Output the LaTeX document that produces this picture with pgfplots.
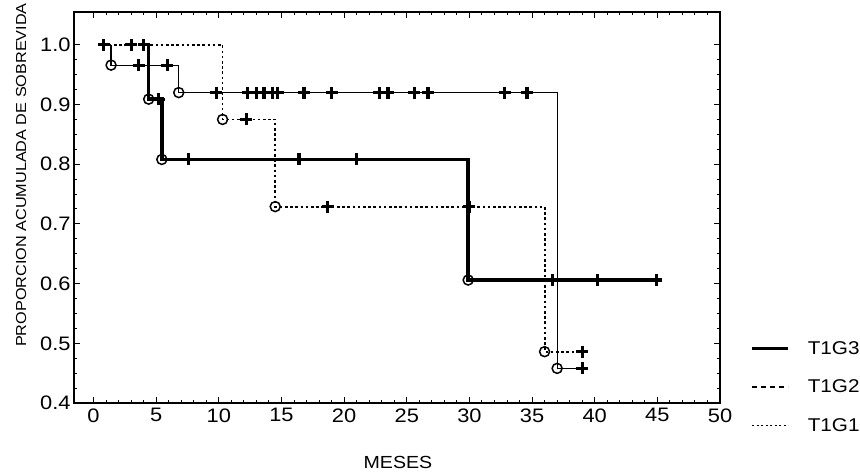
\documentclass[border=0pt]{standalone}
\usepackage{pgfplots}
\pgfplotsset{compat=1.18}
\usepackage{fontspec}
\setmainfont{Liberation Sans}[FakeStretch=1.12]

\begin{document}
\begin{tikzpicture}
\begin{axis}[
  scale only axis, width=646bp, height=391bp,
  xmin=-1.56, xmax=50, ymin=0.4, ymax=1.055,
  xtick={0,5,10,15,20,25,30,35,40,45,50},
  ytick={0.4,0.5,0.6,0.7,0.8,0.9,1.0},
  minor x tick num=4, minor y tick num=3,
  tick align=inside, major tick length=6bp, minor tick length=3bp,
  tick style={black, line width=1bp},
  axis line style={line width=1.8bp},
  yticklabel style={/pgf/number format/.cd, fixed, fixed zerofill, precision=1},
  /pgf/number format/assume math mode=true,
  tick label style={font=\fontsize{19.5bp}{21bp}\selectfont},
  xticklabel style={yshift=-2bp},
  ylabel={PROPORCION ACUMULADA DE SOBREVIDA},
  xlabel={MESES},
  every axis y label/.style={at={(rel axis cs:-0.082,0.583)}, rotate=90, anchor=center, font=\fontsize{14.5bp}{16bp}\selectfont},
  every axis x label/.style={at={(rel axis cs:0.5015,-0.151)}, anchor=center, font=\fontsize{17.5bp}{19bp}\selectfont},
  legend style={draw=none, fill=none, at={(rel axis cs:1,0)}, anchor=west, xshift=30bp, yshift=16bp,
     inner sep=0pt, row sep=24bp, font=\fontsize{18.5bp}{20bp}\selectfont,
     nodes={inner sep=0pt}},
  legend cell align=left,
  /tikz/every odd column/.append style={column sep=18bp},
]
% lines
\addplot[black, line width=3.6bp, forget plot] coordinates {
 (4.4,1.0) (4.4,0.909) (5.45,0.909) (5.45,0.808) (29.9,0.808) (29.9,0.606) (44.9,0.606)};
\addplot[black, line width=1.2bp, forget plot] coordinates {
 (1.4,1.0) (1.4,0.966) (6.8,0.966) (6.8,0.92) (37.0,0.92) (37.0,0.458) (39.0,0.458)};
\addplot[black, line width=1.8bp, dash pattern=on 2.6bp off 2.6bp, forget plot] coordinates {
 (0.8,1.0) (10.3,1.0) (10.3,0.875) (14.5,0.875) (14.5,0.729) (36.0,0.729) (36.0,0.486) (39.0,0.486)};
% event circles
\addplot[only marks, mark=o, mark size=5bp, mark options={fill=white, draw=black, line width=1.5bp, solid}, forget plot] coordinates {
 (4.4,0.909) (5.45,0.808) (29.9,0.606)
 (1.4,0.966) (6.8,0.92) (37.0,0.458)
 (10.3,0.875) (14.5,0.729) (36.0,0.486)};
% censored pluses
\addplot[only marks, mark=+, mark size=6bp, mark options={black, line width=3.2bp, solid}, forget plot] coordinates {
 (5.2,0.909) (7.6,0.808) (16.4,0.808) (21.0,0.808) (36.6,0.606) (40.2,0.606) (44.9,0.606)};
\addplot[only marks, mark=+, mark size=6bp, mark options={black, line width=3.2bp, solid}, forget plot] coordinates {
 (3.6,0.966) (5.9,0.966) (9.8,0.92) (12.3,0.92) (13.0,0.92) (13.6,0.92) (14.3,0.92) (14.7,0.92)
 (16.8,0.92) (19.0,0.92) (22.8,0.92) (23.5,0.92) (25.6,0.92) (26.7,0.92) (32.8,0.92) (34.6,0.92) (39.0,0.458)};
\addplot[only marks, mark=+, mark size=6bp, mark options={black, line width=3.2bp, solid}, forget plot] coordinates {
 (0.8,1.0) (3.0,1.0) (4.0,1.0) (12.2,0.875) (18.7,0.729) (30.0,0.729) (39.0,0.486)};
% legend
\addlegendimage{legend image code/.code={\draw[black, line width=3.6bp] (0bp,0bp) -- (36bp,0bp);}}
\addlegendentry{T1G3}
\addlegendimage{legend image code/.code={\draw[black, line width=1.3bp, dash pattern=on 5bp off 4bp] (0bp,0bp) -- (36bp,0bp);}}
\addlegendentry{T1G2}
\addlegendimage{legend image code/.code={\draw[black, line width=1.6bp, dash pattern=on 2bp off 2.5bp] (0bp,0bp) -- (36bp,0bp);}}
\addlegendentry{T1G1}
\end{axis}
\pgfresetboundingbox
\path (current axis.south west) ++(-74bp,-70bp) rectangle ++(860bp,473bp);
\end{tikzpicture}
\end{document}
